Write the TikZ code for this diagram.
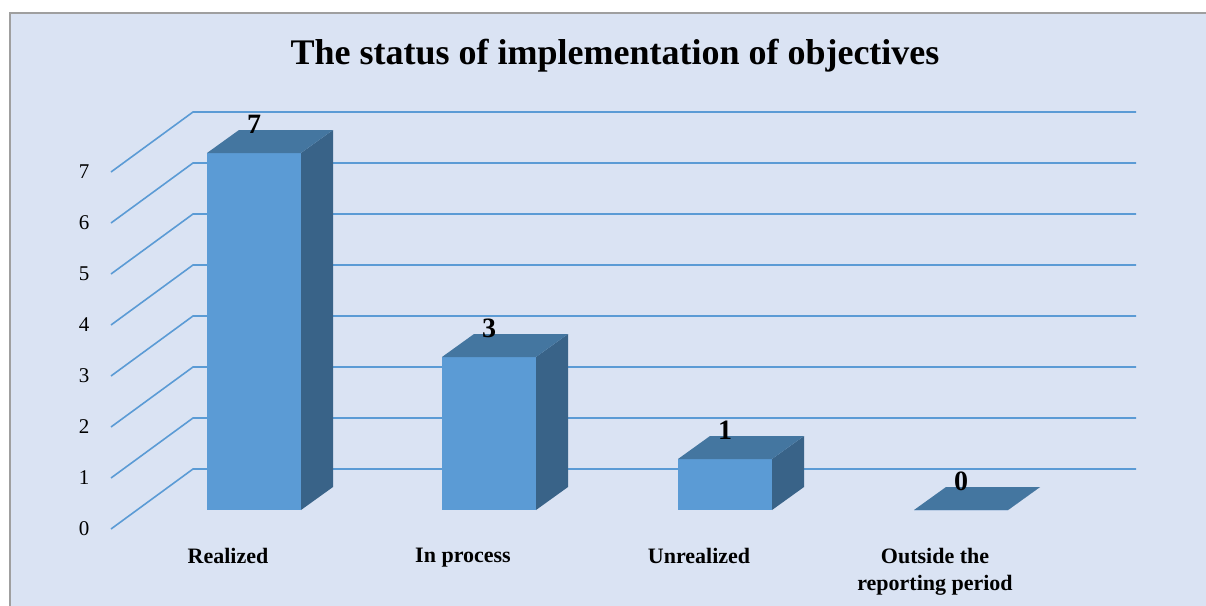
\documentclass[tikz,border=0pt]{standalone}
\usepackage{fontspec}
\setmainfont{Liberation Serif}
\usepackage{xcolor}
\definecolor{chartbg}{RGB}{218,227,243}
\definecolor{gridblue}{RGB}{91,155,213}
\definecolor{barfront}{RGB}{91,155,213}
\definecolor{bartop}{RGB}{68,118,160}
\definecolor{barside}{RGB}{57,99,136}
\usetikzlibrary{calc}

\begin{document}
\begin{tikzpicture}[x=1pt,y=-1pt,
		gridline/.style={gridblue,line width=1.6pt},
		ticklabel/.style={inner sep=0pt,font=\fontsize{21}{21}\selectfont},
		valuelabel/.style={inner sep=0pt,font=\fontsize{28}{28}\selectfont\bfseries},
		catlabel/.style={inner sep=0pt,anchor=north,align=center,font=\fontsize{22}{27}\selectfont\bfseries}]
		\useasboundingbox (0,0) rectangle (1206,605);
		\fill[white] (0,0) rectangle (1206,605);
		\filldraw[fill=chartbg,draw=gray!75,line width=1.2pt] (10,13) rectangle (1220,620);
		
		\node[font=\fontsize{36}{36}\selectfont\bfseries] (title) at (615,56) {The status of implementation of objectives};
		
		% grid and axis
		\foreach \v in {0,...,7} {
			\coordinate (f\v) at (111,529-51*\v);
			\coordinate (b\v) at (193,469-51*\v);
			\coordinate (e\v) at (1136,469-51*\v);
			\draw[gridline] (f\v) -- (b\v) -- (e\v);
			\node[ticklabel] (t\v) at (84,529-51*\v) {\v};
		}
		
		% bars
		\foreach \x/\val/\name/\cat in {207/7/real/Realized,442/3/proc/In process,678/1/unreal/Unrealized,914/0/out/{Outside the\\reporting period}} {
			\fill[barfront] (\x,510) rectangle (\x+94,510-51*\val);
			\fill[barside] (\x+94,510) -- (\x+94,510-51*\val) -- (\x+126,487-51*\val) -- (\x+126,487) -- cycle;
			\fill[bartop] (\x,510-51*\val) -- (\x+32,487-51*\val) -- (\x+126,487-51*\val) -- (\x+94,510-51*\val) -- cycle;
			\node[valuelabel] (v-\name) at (\x+47,481-51*\val) {\val};
			\node[catlabel] (c-\name) at (\x+21,548) {\cat};
		}
	\end{tikzpicture}
\end{document}
